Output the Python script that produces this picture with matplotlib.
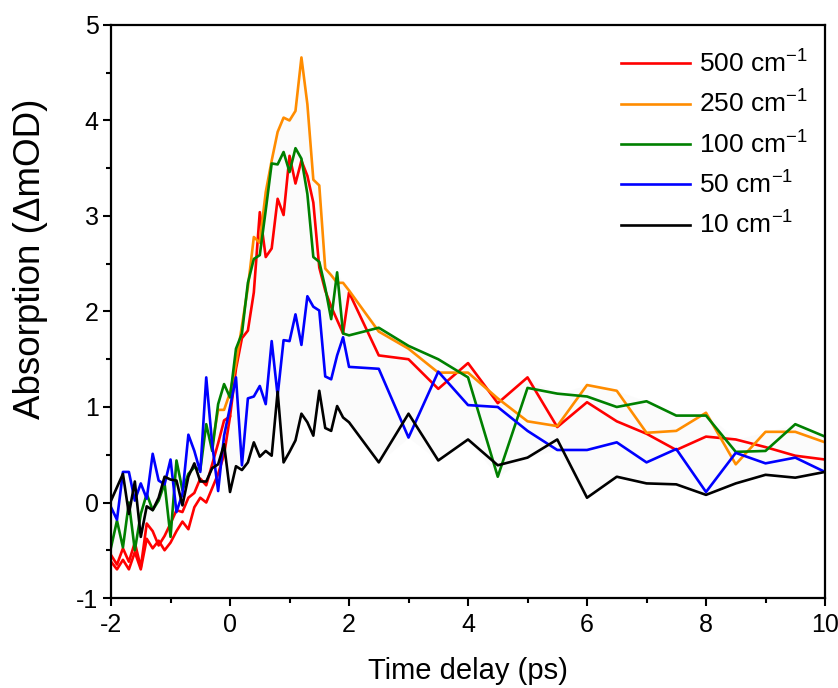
import matplotlib
matplotlib.use("Agg")
import matplotlib.pyplot as plt
import numpy as np

plt.rcParams['font.family'] = ['Liberation Sans', 'DejaVu Sans']
plt.rcParams['mathtext.fontset'] = 'custom'
plt.rcParams['mathtext.rm'] = 'Liberation Sans'
plt.rcParams['mathtext.it'] = 'Liberation Sans:italic'
plt.rcParams['axes.unicode_minus'] = False

# time delay (ps): 0.1 ps steps up to 2 ps, then 0.5 ps steps
t = [-2.0, -1.9, -1.8, -1.7, -1.6, -1.5, -1.4, -1.3, -1.2, -1.1,
     -1.0, -0.9, -0.8, -0.7, -0.6, -0.5, -0.4, -0.3, -0.2, -0.1,
     0.0, 0.1, 0.2, 0.3, 0.4, 0.5, 0.6, 0.7, 0.8, 0.9,
     1.0, 1.1, 1.2, 1.3, 1.4, 1.5, 1.6, 1.7, 1.8, 1.9,
     2.0, 2.5, 3.0, 3.5, 4.0, 4.5, 5.0, 5.5, 6.0, 6.5,
     7.0, 7.5, 8.0, 8.5, 9.0, 9.5, 10.0]

y500 = [-0.55, -0.65, -0.48, -0.62, -0.42, -0.68, -0.22, -0.30, -0.45, -0.35,
        -0.22, -0.08, -0.10, 0.05, 0.10, 0.25, 0.18, 0.40, 0.62, 0.86,
        0.90, 1.40, 1.72, 1.80, 2.20, 3.04, 2.57, 2.66, 3.18, 3.01,
        3.63, 3.34, 3.58, 3.42, 3.14, 2.46, 2.22, 2.05, 1.91, 1.77,
        2.20, 1.54, 1.50, 1.19, 1.46, 1.04, 1.31, 0.79, 1.05, 0.85,
        0.72, 0.55, 0.69, 0.66, 0.58, 0.49, 0.45]

# second red trace (early delays only)
t500b = [-2.0, -1.9, -1.8, -1.7, -1.6, -1.5, -1.4, -1.3, -1.2, -1.1,
         -1.0, -0.9, -0.8, -0.7, -0.6, -0.5, -0.4, -0.3, -0.2, -0.1, 0.0]
y500b = [-0.62, -0.70, -0.60, -0.70, -0.52, -0.70, -0.38, -0.48, -0.40, -0.50,
         -0.42, -0.30, -0.20, -0.28, -0.05, 0.05, 0.00, 0.15, 0.30, 0.50, 0.90]

t250 = [-0.3, -0.2, -0.1, 0.0, 0.1, 0.2, 0.3, 0.4, 0.5, 0.6, 0.7, 0.8, 0.9,
        1.0, 1.1, 1.2, 1.3, 1.4, 1.5, 1.6, 1.7, 1.8, 1.9,
        2.0, 2.5, 3.0, 3.5, 4.0, 4.5, 5.0, 5.5, 6.0, 6.5,
        7.0, 7.5, 8.0, 8.5, 9.0, 9.5, 10.0]
y250 = [0.60, 0.97, 0.97, 1.15, 1.45, 1.85, 2.25, 2.78, 2.72, 3.25, 3.58, 3.88, 4.03,
        4.00, 4.10, 4.66, 4.17, 3.38, 3.32, 2.45, 2.38, 2.30, 2.30,
        2.22, 1.79, 1.61, 1.36, 1.36, 1.09, 0.85, 0.80, 1.23, 1.17,
        0.73, 0.75, 0.94, 0.40, 0.74, 0.74, 0.63]

y100 = [-0.47, -0.19, -0.47, 0.00, -0.50, -0.12, 0.09, -0.08, 0.02, 0.20,
        -0.36, 0.44, 0.13, 0.30, 0.37, 0.34, 0.82, 0.54, 1.03, 1.24,
        1.10, 1.61, 1.77, 2.30, 2.55, 2.59, 3.06, 3.55, 3.54, 3.67,
        3.46, 3.71, 3.60, 3.23, 2.57, 2.52, 2.25, 1.92, 2.41, 1.77,
        1.75, 1.83, 1.64, 1.50, 1.31, 0.27, 1.20, 1.14, 1.11, 1.00,
        1.06, 0.91, 0.91, 0.53, 0.54, 0.82, 0.69]

y50 = [-0.05, -0.18, 0.32, 0.32, 0.02, 0.20, 0.04, 0.51, 0.23, 0.19,
       0.45, -0.10, 0.09, 0.71, 0.54, 0.32, 1.31, 0.61, 0.12, 0.70,
       1.00, 1.31, 0.39, 1.09, 1.11, 1.22, 1.03, 1.69, 1.12, 1.70,
       1.69, 1.97, 1.65, 2.16, 2.05, 2.01, 1.32, 1.29, 1.54, 1.73,
       1.42, 1.40, 0.68, 1.37, 1.02, 1.00, 0.75, 0.55, 0.55, 0.63,
       0.42, 0.56, 0.11, 0.52, 0.41, 0.47, 0.32]

y10 = [0.02, 0.16, 0.30, -0.12, 0.22, -0.36, -0.04, -0.08, 0.05, 0.27,
       0.24, 0.23, -0.03, 0.27, 0.41, 0.22, 0.22, 0.36, 0.40, 0.61,
       0.11, 0.38, 0.34, 0.42, 0.63, 0.48, 0.54, 0.49, 1.16, 0.42,
       0.53, 0.65, 0.93, 0.84, 0.70, 1.17, 0.78, 0.75, 1.01, 0.89,
       0.84, 0.42, 0.93, 0.44, 0.66, 0.39, 0.47, 0.66, 0.05, 0.27,
       0.20, 0.19, 0.08, 0.20, 0.29, 0.26, 0.32]

labels = ['500 cm$^{-1}$', '250 cm$^{-1}$', '100 cm$^{-1}$', '50 cm$^{-1}$', '10 cm$^{-1}$']
colors = ['#ff0000', '#ff8c00', '#008000', '#0000ff', '#000000']

fig = plt.figure(figsize=(8.38, 6.88), dpi=100)
ax = fig.add_axes([0.1325, 0.1308, 0.852, 0.8329])

# very faint shading between the upper and lower envelope of the traces
tt = np.array(t)
o250 = np.interp(tt, t250, y250, left=np.nan)
stack = np.vstack([y500, o250, y100, y50, y10])
ax.fill_between(tt, np.nanmin(stack, axis=0), np.nanmax(stack, axis=0),
                color='#fbfbfb', lw=0, zorder=0)

lw = 1.9
ax.plot(t500b, y500b, color=colors[0], lw=lw)
ax.plot(t, y500, color=colors[0], lw=lw, label=labels[0])
ax.plot(t250, y250, color=colors[1], lw=lw, label=labels[1])
ax.plot(t, y100, color=colors[2], lw=lw, label=labels[2])
ax.plot(t, y50, color=colors[3], lw=lw, label=labels[3])
ax.plot(t, y10, color=colors[4], lw=lw, label=labels[4])

ax.set_xlim(-2, 10)
ax.set_ylim(-1, 5)
ax.set_xticks(np.arange(-2, 11, 2))
ax.set_xticks(np.arange(-1, 10, 2), minor=True)
ax.set_yticks(np.arange(-1, 6, 1))
ax.set_yticks(np.arange(-0.5, 5, 1), minor=True)
ax.tick_params(which='both', direction='out', width=1.5, top=False, right=False,
               labelsize=18)
ax.tick_params(which='major', length=6)
ax.tick_params(axis='y', which='major', pad=3)
ax.tick_params(axis='x', which='major', pad=5)
ax.tick_params(which='minor', length=3.5)
for s in ax.spines.values():
    s.set_linewidth(1.6)

ax.set_xlabel('Time delay (ps)', fontsize=21, labelpad=14)
ax.set_ylabel('Absorption (\u0394mOD)', fontsize=26.5)
ax.yaxis.set_label_coords(-0.088, 0.592)

leg = ax.legend(loc='upper right', bbox_to_anchor=(1.0, 0.986), frameon=False,
                fontsize=19, handlelength=2.6, handletextpad=0.35,
                labelspacing=0.5, borderaxespad=0.25)

fig.savefig('out.png', dpi=100)
